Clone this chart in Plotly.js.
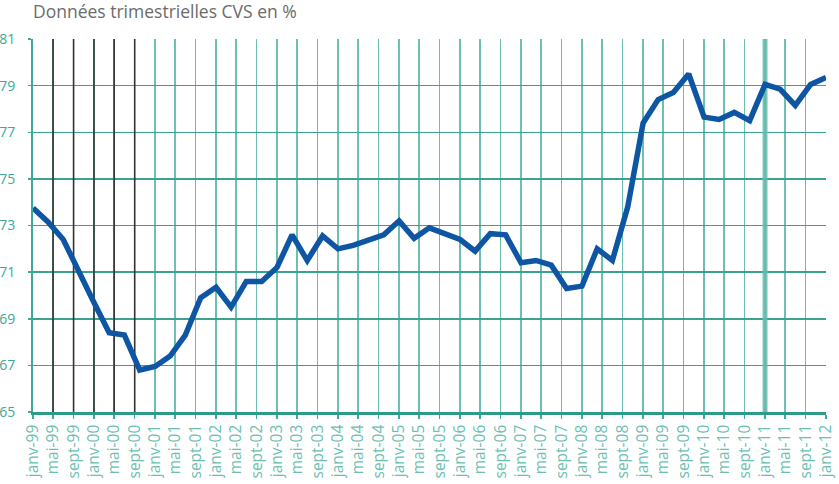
<!DOCTYPE html>
<html>
<head>
<meta charset="utf-8">
<script src="https://cdn.plot.ly/plotly-3.0.1.min.js"></script>
<style>html,body{margin:0;padding:0;background:#fff;}#chart{width:839px;height:484px;}</style>
</head>
<body>
<div id="chart"></div>
<script>
// Quarterly observation dates
var quarters = [
  "1999-01-01","1999-04-01","1999-07-01","1999-10-01",
  "2000-01-01","2000-04-01","2000-07-01","2000-10-01",
  "2001-01-01","2001-04-01","2001-07-01","2001-10-01",
  "2002-01-01","2002-04-01","2002-07-01","2002-10-01",
  "2003-01-01","2003-04-01","2003-07-01","2003-10-01",
  "2004-01-01","2004-04-01","2004-07-01","2004-10-01",
  "2005-01-01","2005-04-01","2005-07-01","2005-10-01",
  "2006-01-01","2006-04-01","2006-07-01","2006-10-01",
  "2007-01-01","2007-04-01","2007-07-01","2007-10-01",
  "2008-01-01","2008-04-01","2008-07-01","2008-10-01",
  "2009-01-01","2009-04-01","2009-07-01","2009-10-01",
  "2010-01-01","2010-04-01","2010-07-01","2010-10-01",
  "2011-01-01","2011-04-01","2011-07-01","2011-10-01",
  "2012-01-01"
];
// Series values (%)
var values = [
  73.75, 73.15, 72.4, 71.0, 69.7, 68.4, 68.3, 66.8,
  66.95, 67.4, 68.3, 69.9, 70.35, 69.5, 70.6, 70.6,
  71.2, 72.6, 71.5, 72.55, 72.0, 72.15, 72.35, 72.6,
  73.2, 72.45, 72.9, 72.65, 72.4, 71.9, 72.65, 72.6,
  71.4, 71.5, 71.3, 70.3, 70.4, 72.0, 71.5, 73.8,
  77.4, 78.4, 78.7, 79.5, 77.65, 77.55, 77.85, 77.5,
  79.05, 78.85, 78.15, 79.05, 79.35
];
// X tick labels
var tickLabels = [
  "janv-99","mai-99","sept-99","janv-00","mai-00","sept-00",
  "janv-01","mai-01","sept-01","janv-02","mai-02","sept-02",
  "janv-03","mai-03","sept-03","janv-04","mai-04","sept-04",
  "janv-05","mai-05","sept-05","janv-06","mai-06","sept-06",
  "janv-07","mai-07","sept-07","janv-08","mai-08","sept-08",
  "janv-09","mai-09","sept-09","janv-10","mai-10","sept-10",
  "janv-11","mai-11","sept-11","janv-12"
];
var darkGridLabels = ["mai-99","sept-99","janv-00","mai-00","sept-00"];
var highlightLabel = "janv-11";
var yRange = [65, 81];

var monthNum = {"janv":"01","mai":"05","sept":"09"};
function labelToDate(l){
  var p = l.split("-");
  var yy = parseInt(p[1],10);
  var year = (yy > 50 ? 1900 : 2000) + yy;
  return year + "-" + monthNum[p[0]] + "-01";
}
var tickVals = tickLabels.map(labelToDate);

var teal = "#3fa898";
var tealLight = "#6dbfb1";

// dark vertical grid lines (first period) drawn as a trace under the series
var darkX = [], darkY = [];
darkGridLabels.forEach(function(l){
  var d = labelToDate(l);
  darkX.push(d, d, null);
  darkY.push(yRange[0], yRange[1], null);
});
var darkTrace = {
  x: darkX, y: darkY, type:"scatter", mode:"lines",
  line:{color:"#333333", width:1.6}, hoverinfo:"skip"
};
var hl = labelToDate(highlightLabel);
var hlTrace = {
  x: [hl, hl], y: yRange, type:"scatter", mode:"lines",
  line:{color:"rgba(100,186,172,0.85)", width:5}, hoverinfo:"skip"
};

var trace = {
  x: quarters, y: values, type:"scatter", mode:"lines",
  line:{color:"#0e56a4", width:5.5, shape:"linear"},
  hoverinfo:"skip"
};

var layout = {
  width:839, height:484,
  margin:{l:33, r:13, t:39, b:72, pad:0},
  paper_bgcolor:"#fff", plot_bgcolor:"#fff",
  showlegend:false,
  font:{family:"Open Sans, sans-serif", color:teal},
  title:{text:"Données trimestrielles CVS en %", x:0, xref:"paper", xanchor:"left", y:0.975, yanchor:"middle",
         yref:"container", font:{size:17.5, color:"#6b6b6b", family:"Open Sans, sans-serif"}},
  xaxis:{
    type:"date", range:["1999-01-01","2012-01-01"],
    tickmode:"array", tickvals:tickVals, ticktext:tickLabels,
    tickangle:-90, tickfont:{size:15.5, color:tealLight},
    showgrid:true, gridcolor:tealLight, gridwidth:1.5,
    ticks:"outside", ticklen:4, tickcolor:teal, tickwidth:1.5,
    showline:true, linecolor:"#2e9a88", linewidth:2.5,
    zeroline:false, fixedrange:true
  },
  yaxis:{
    range:yRange, tickmode:"linear", tick0:65, dtick:2,
    tickfont:{size:14, color:teal},
    showgrid:true, gridcolor:"#3aa290", gridwidth:1.5,
    ticks:"outside", ticklen:3, tickcolor:teal, tickwidth:1.5,
    ticklabelstandoff:10,
    showline:true, linecolor:teal, linewidth:2,
    zeroline:false, fixedrange:true
  }
};

Plotly.newPlot("chart", [darkTrace, hlTrace, trace], layout, {staticPlot:true, displayModeBar:false});
</script>
</body>
</html>
